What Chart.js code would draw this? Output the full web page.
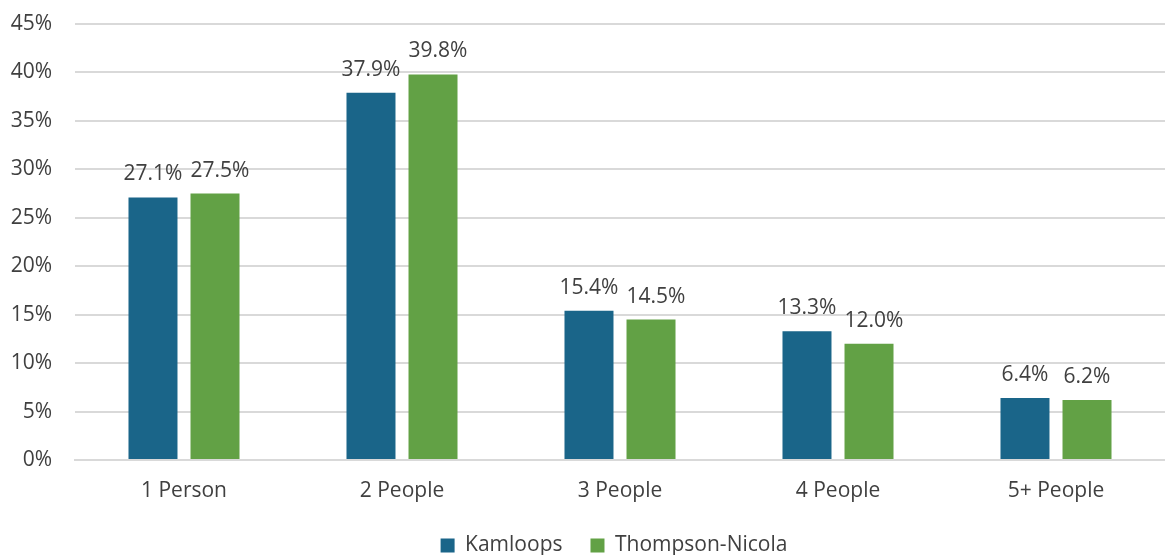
<!DOCTYPE html>
<html>
<head>
<meta charset="utf-8">
<script src="https://cdn.jsdelivr.net/npm/chart.js@4"></script>
<style>
  html, body { margin: 0; padding: 0; background: #fff; }
  #wrap { width: 1165px; height: 555px; position: relative; }
</style>
</head>
<body>
<div id="wrap"><canvas id="householdChart"></canvas></div>
<script>
// Household size shares
var categories = ['1 Person', '2 People', '3 People', '4 People', '5+ People'];
var kamloops = [27.1, 37.9, 15.4, 13.3, 6.4];
var thompsonNicola = [27.5, 39.8, 14.5, 12.0, 6.2];
var yTicks = [0, 5, 10, 15, 20, 25, 30, 35, 40, 45];

var FONT = '"Open Sans", "Liberation Sans", sans-serif';
var TEXT = '#404040';
var SIZE = 21;

// Draw value labels above each bar, nudging the second one right if the pair collides
var valueLabels = {
    id: 'valueLabels',
    afterDatasetsDraw: function(chart) {
        var ctx = chart.ctx;
        ctx.save();
        ctx.font = SIZE + 'px ' + FONT;
        ctx.fillStyle = TEXT;
        ctx.textAlign = 'center';
        ctx.textBaseline = 'alphabetic';
        var a = chart.getDatasetMeta(0).data;
        var b = chart.getDatasetMeta(1).data;
        categories.forEach(function(c, j) {
            var t1 = kamloops[j].toFixed(1) + '%';
            var t2 = thompsonNicola[j].toFixed(1) + '%';
            var w1 = ctx.measureText(t1).width;
            var w2 = ctx.measureText(t2).width;
            var x1 = a[j].x, x2 = b[j].x;
            var overlap = (x1 + w1 / 2 + 8) - (x2 - w2 / 2);
            if (overlap > 0) x2 += overlap;
            ctx.fillText(t1, x1, a[j].y - 17);
            ctx.fillText(t2, x2, b[j].y - 17);
        });
        ctx.restore();
    }
};

// Wide gap between legend items but a short legend box, centred under the plot
var legendFit = {
    id: 'legendFit',
    beforeLayout: function(chart) {
        var legend = chart.legend;
        if (!legend || legend._shortFit) return;
        var fit = legend.fit;
        legend.fit = function() {
            fit.call(this);
            this.height -= 11;
        };
        legend._shortFit = true;
    },
    afterLayout: function(chart) {
        var legend = chart.legend;
        if (!legend) return;
        var shift = (chart.chartArea.left + chart.chartArea.right) / 2 - (legend.left + legend.right) / 2 - 6;
        legend.left += shift;
        legend.right += shift;
    }
};

new Chart(document.getElementById('householdChart'), {
    type: 'bar',
    data: {
        labels: categories,
        datasets: [{
            label: 'Kamloops',
            data: kamloops,
            backgroundColor: '#1a6589'
        }, {
            label: 'Thompson-Nicola',
            data: thompsonNicola,
            backgroundColor: '#62a145'
        }]
    },
    options: {
        responsive: true,
        maintainAspectRatio: false,
        animation: false,
        datasets: {
            bar: { categoryPercentage: 0.569, barPercentage: 0.79 }
        },
        layout: { padding: { left: 0, right: 0, top: 24, bottom: 0 } },
        plugins: {
            legend: {
                position: 'bottom',
                labels: {
                    font: { family: FONT, size: SIZE },
                    color: TEXT,
                    boxWidth: 14,
                    boxHeight: 14,
                    padding: 28
                }
            },
            tooltip: { enabled: false }
        },
        scales: {
            x: {
                grid: { display: false, drawTicks: false },
                border: { color: '#d9d9d9', width: 2 },
                afterFit: function(axis) { axis.height = 47; },
                ticks: { font: { family: FONT, size: SIZE }, color: TEXT, padding: 18 }
            },
            y: {
                min: 0,
                max: 45,
                afterBuildTicks: function(axis) {
                    axis.ticks = yTicks.map(function(v) { return { value: v }; });
                },
                afterFit: function(axis) {
                    axis.width = 75;
                    axis.paddingTop = 0;
                    axis.paddingBottom = 0;
                },
                grid: { color: '#d9d9d9', lineWidth: 2, drawTicks: false },
                border: { display: false },
                ticks: {
                    font: { family: FONT, size: SIZE },
                    color: TEXT,
                    padding: 23,
                    callback: function(v) { return v + '%'; }
                }
            }
        }
    },
    plugins: [valueLabels, legendFit]
});
</script>
</body>
</html>
